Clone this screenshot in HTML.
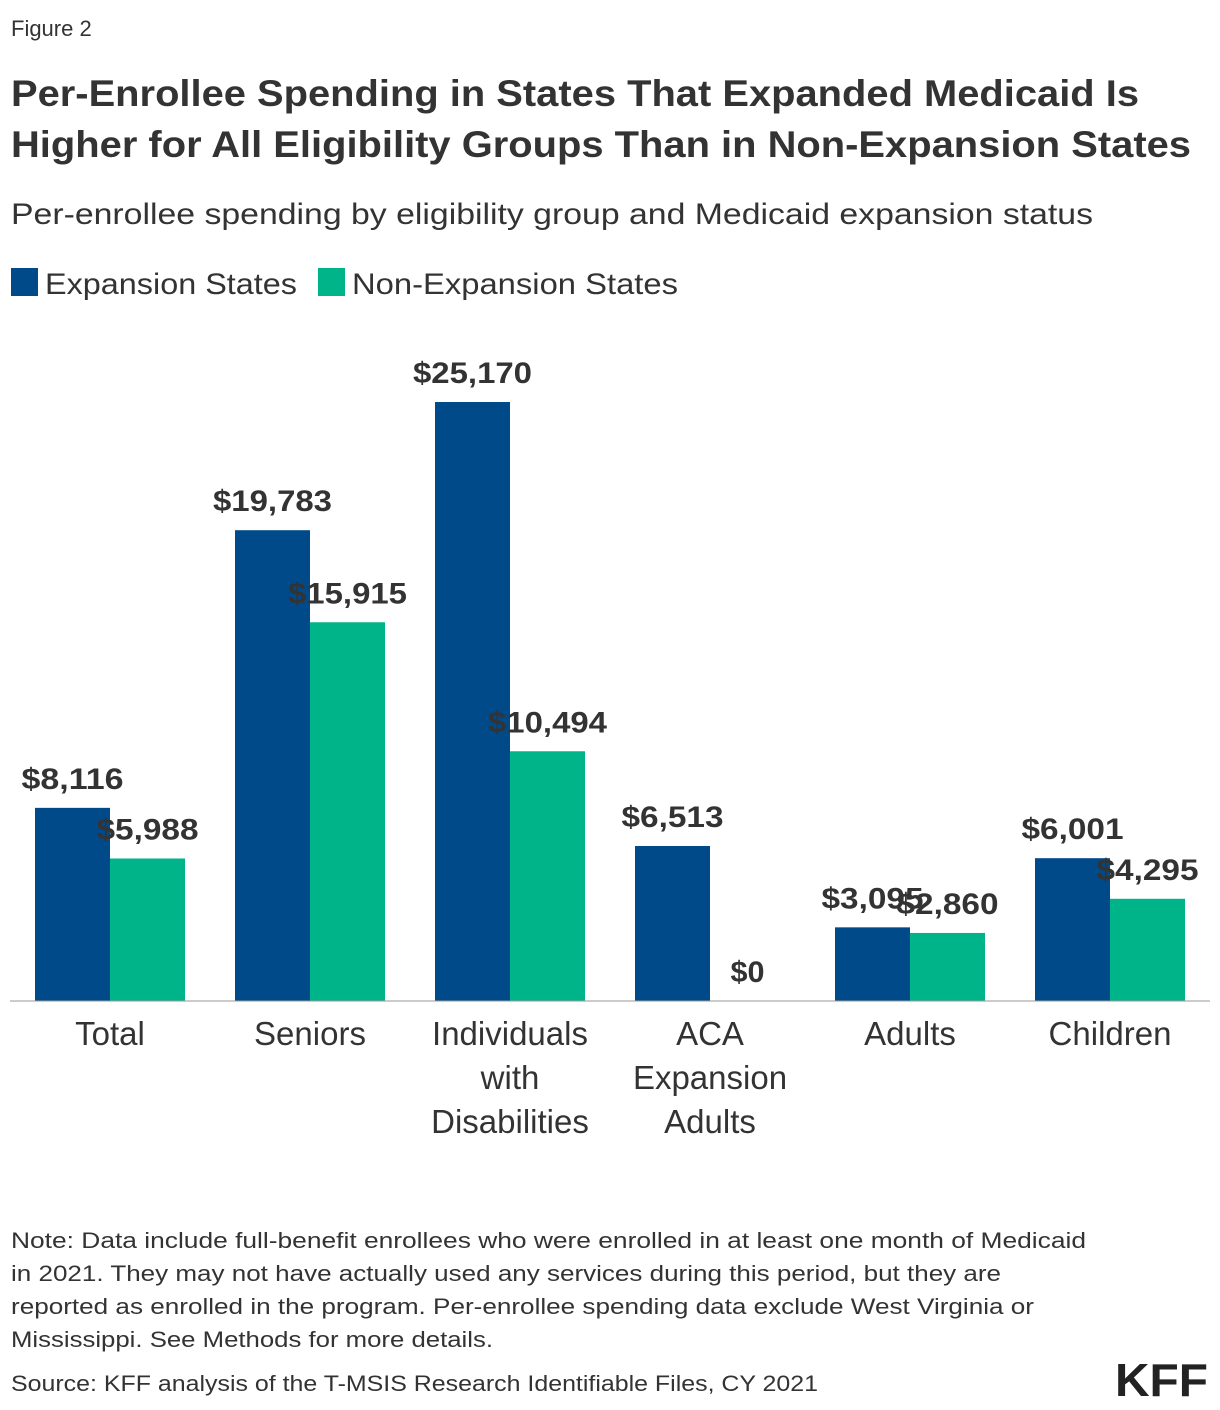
<!DOCTYPE html>
<html><head><meta charset="utf-8"><style>
body{margin:0;background:#fff;}
svg{display:block;font-family:"Liberation Sans",sans-serif;}
</style></head><body>
<svg id="chart" width="1220" height="1410" viewBox="0 0 1220 1410">
<text x="11" y="36" font-size="22" fill="#333">Figure 2</text>
<text x="11" y="106" font-size="37" font-weight="bold" fill="#333" textLength="1128" lengthAdjust="spacingAndGlyphs">Per-Enrollee Spending in States That Expanded Medicaid Is</text>
<text x="11" y="157" font-size="37" font-weight="bold" fill="#333" textLength="1180" lengthAdjust="spacingAndGlyphs">Higher for All Eligibility Groups Than in Non-Expansion States</text>
<text x="11" y="224" font-size="30" fill="#333" textLength="1082" lengthAdjust="spacingAndGlyphs">Per-enrollee spending by eligibility group and Medicaid expansion status</text>
<rect x="11" y="268" width="27" height="28" fill="#004A8A"/>
<text x="45" y="294" font-size="30" fill="#333" textLength="252" lengthAdjust="spacingAndGlyphs">Expansion States</text>
<rect x="318" y="268" width="27" height="28" fill="#00B48A"/>
<text x="352" y="294" font-size="30" fill="#333" textLength="326" lengthAdjust="spacingAndGlyphs">Non-Expansion States</text>
<g id="plot"></g>
<line x1="10" y1="1001" x2="1210" y2="1001" stroke="#999" stroke-width="1"/>
<g font-size="22" fill="#333">
<text x="11" y="1248" textLength="1075" lengthAdjust="spacingAndGlyphs">Note: Data include full-benefit enrollees who were enrolled in at least one month of Medicaid</text>
<text x="11" y="1281" textLength="990" lengthAdjust="spacingAndGlyphs">in 2021. They may not have actually used any services during this period, but they are</text>
<text x="11" y="1314" textLength="1023" lengthAdjust="spacingAndGlyphs">reported as enrolled in the program. Per-enrollee spending data exclude West Virginia or</text>
<text x="11" y="1347" textLength="482" lengthAdjust="spacingAndGlyphs">Mississippi. See Methods for more details.</text>
<text x="11" y="1391" textLength="807" lengthAdjust="spacingAndGlyphs">Source: KFF analysis of the T-MSIS Research Identifiable Files, CY 2021</text>
</g>
<text x="1115" y="1396" font-size="46" font-weight="900" fill="#222" textLength="93" lengthAdjust="spacingAndGlyphs">KFF</text>
</svg>
<script>
const categories = [["Total"],["Seniors"],["Individuals","with","Disabilities"],["ACA","Expansion","Adults"],["Adults"],["Children"]];
const expansionValues = [8116,19783,25170,6513,3095,6001];
const nonExpansionValues = [5988,15915,10494,0,2860,4295];
const NS="http://www.w3.org/2000/svg";
const plot=document.getElementById('plot');
const baseY=1001, scale=599/25170;
function yPos(v){return baseY - v*scale;}
function xCenter(i){return 110 + i*200;}
function fmt(v){return "$"+v.toLocaleString("en-US");}
function mk(tag,attrs){const e=document.createElementNS(NS,tag);for(const k in attrs)e.setAttribute(k,attrs[k]);return e;}
categories.forEach((cat,i)=>{
  const cx=xCenter(i);
  [[expansionValues[i],"#004A8A",cx-75,"expansion"],[nonExpansionValues[i],"#00B48A",cx,"non-expansion"]].forEach(([v,c,x,s])=>{
    const r=mk('rect',{x:x,y:yPos(v),width:75,height:baseY-yPos(v),fill:c});
    
    
    plot.appendChild(r);
  });
  [[expansionValues[i],cx-37.5,"expansion"],[nonExpansionValues[i],cx+37.5,"non-expansion"]].forEach(([v,x,s])=>{
    const label=fmt(v);
    const t=mk('text',{x:x,y:yPos(v)-19,'text-anchor':'middle','font-size':30,'font-weight':'bold',fill:'#333',textLength:label.length*17,lengthAdjust:'spacingAndGlyphs'});
    t.textContent=label;
    
    
    plot.appendChild(t);
  });
  cat.forEach((line,j)=>{
    const t=mk('text',{x:cx,y:1045+j*44,'text-anchor':'middle','font-size':33,fill:'#333'});
    t.textContent=line;
    
    
    plot.appendChild(t);
  });
});
</script>
</body></html>
